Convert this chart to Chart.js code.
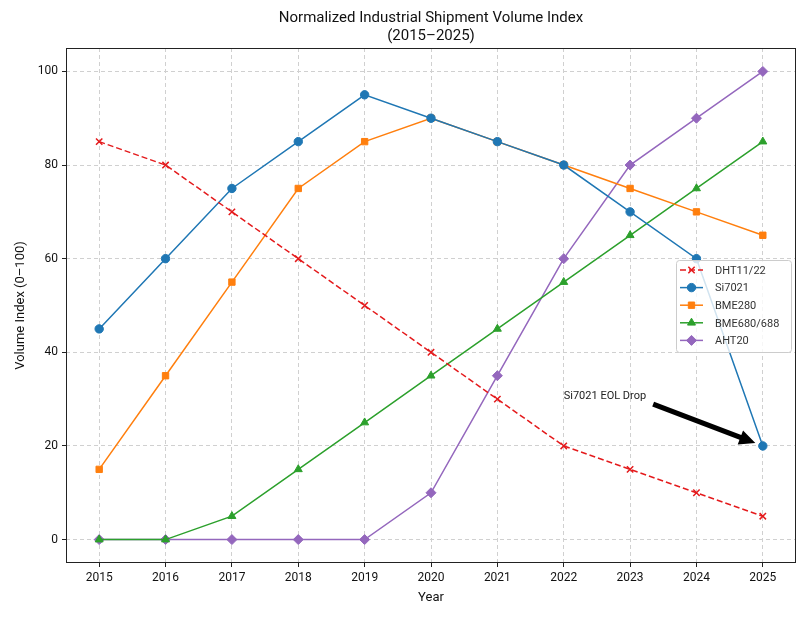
<!DOCTYPE html>
<html>
<head>
<meta charset="utf-8">
<script src="https://cdn.jsdelivr.net/npm/chart.js@4.4.1/dist/chart.umd.min.js"></script>
<style>
  html, body { margin: 0; padding: 0; background: #fff; }
  #wrap { width: 808px; height: 618px; }
</style>
</head>
<body>
<div id="wrap"><canvas id="chart" width="808" height="618"></canvas></div>
<script>
// data
const years = ['2015', '2016', '2017', '2018', '2019', '2020', '2021', '2022', '2023', '2024', '2025'];
const dht = [85, 80, 70, 60, 50, 40, 30, 20, 15, 10, 5];
const si7021 = [45, 60, 75, 85, 95, 90, 85, 80, 70, 60, 20];
const bme280 = [15, 35, 55, 75, 85, 90, 85, 80, 75, 70, 65];
const bme680 = [0, 0, 5, 15, 25, 35, 45, 55, 65, 75, 85];
const aht20 = [0, 0, 0, 0, 0, 10, 35, 60, 80, 90, 100];
const yTicks = [0, 20, 40, 60, 80, 100];

// annotation: text at (2022, 30), arrow to (2025, 20)
const noteText = 'Si7021 EOL Drop';
const noteAt = { x: '2022', y: 30 };
const noteTarget = { x: '2025', y: 20 };

const FONT = 'Roboto, "Open Sans", sans-serif';

// box around plot + annotation arrow
const framePlugin = {
    id: 'frame',
    afterDraw(chart) {
        const { ctx, chartArea: a, scales } = chart;
        ctx.save();
        ctx.strokeStyle = '#222';
        ctx.lineWidth = 1;
        ctx.strokeRect(a.left + 0.5, a.top + 0.5, a.right - a.left - 1, a.bottom - a.top - 1);

        // annotation
        const tx = scales.x.getPixelForValue(years.indexOf(noteAt.x));
        const ty = scales.y.getPixelForValue(noteAt.y);
        const px = scales.x.getPixelForValue(years.indexOf(noteTarget.x));
        const py = scales.y.getPixelForValue(noteTarget.y);
        ctx.font = '11px ' + FONT;
        ctx.fillStyle = '#222';
        ctx.textAlign = 'left';
        ctx.textBaseline = 'alphabetic';
        ctx.fillText(noteText, tx, ty);
        const w = ctx.measureText(noteText).width;

        // arrow from text box edge toward point, shrunk a little
        const sx = tx + w + 7, sy = ty + 5;
        const dx = px - sx, dy = py - sy;
        const len = Math.hypot(dx, dy);
        const ux = dx / len, uy = dy / len;
        const ex = px - ux * 8, ey = py - uy * 8;
        const head = 16, hw = 7.5, sw = 2.6;
        const bx = ex - ux * head, by = ey - uy * head;
        const nx = -uy, ny = ux;
        ctx.fillStyle = '#000';
        ctx.beginPath();
        ctx.moveTo(sx + nx * sw, sy + ny * sw);
        ctx.lineTo(bx + nx * sw, by + ny * sw);
        ctx.lineTo(bx + nx * hw, by + ny * hw);
        ctx.lineTo(ex, ey);
        ctx.lineTo(bx - nx * hw, by - ny * hw);
        ctx.lineTo(bx - nx * sw, by - ny * sw);
        ctx.lineTo(sx - nx * sw, sy - ny * sw);
        ctx.closePath();
        ctx.fill();
        ctx.restore();
    }
};

// legend drawn inside the plot
const legendPlugin = {
    id: 'innerLegend',
    afterDraw(chart) {
        const { ctx } = chart;
        const x0 = 676, y0 = 260, w = 115, h = 92;
        ctx.save();
        ctx.fillStyle = 'rgba(255,255,255,0.8)';
        ctx.strokeStyle = '#cccccc';
        ctx.lineWidth = 1;
        ctx.beginPath();
        ctx.roundRect(x0 + 0.5, y0 + 0.5, w, h, 3);
        ctx.fill();
        ctx.stroke();
        chart.data.datasets.forEach((ds, i) => {
            const cy = y0 + 10 + i * 17.6;
            ctx.strokeStyle = ds.borderColor;
            ctx.lineWidth = 1.5;
            ctx.setLineDash(ds.borderDash || []);
            ctx.beginPath();
            ctx.moveTo(x0 + 4, cy);
            ctx.lineTo(x0 + 27, cy);
            ctx.stroke();
            ctx.setLineDash([]);
            ctx.fillStyle = ds.borderColor;
            ctx.strokeStyle = ds.borderColor;
            ctx.lineWidth = ds.pointBorderWidth;
            Chart.helpers.drawPoint(ctx, {
                pointStyle: ds.pointStyle,
                radius: ds.pointRadius,
                borderWidth: ds.pointBorderWidth
            }, x0 + 15.5, cy);
            ctx.fillStyle = '#333';
            ctx.font = '11px ' + FONT;
            ctx.textAlign = 'left';
            ctx.textBaseline = 'middle';
            ctx.fillText(ds.label, x0 + 39, cy + 1);
        });
        ctx.restore();
    }
};

function series(label, data, color, style, radius, dash) {
    return {
        label: label,
        data: data,
        borderColor: color,
        backgroundColor: color,
        pointBackgroundColor: color,
        pointBorderColor: color,
        pointStyle: style,
        pointRadius: radius,
        pointHoverRadius: radius,
        pointBorderWidth: style === 'crossRot' ? 1.5 : 1,
        borderWidth: 1.5,
        borderDash: dash,
        tension: 0,
        fill: false
    };
}

const ctx = document.getElementById('chart').getContext('2d');
const chart = new Chart(ctx, {
    type: 'line',
    data: {
        labels: years,
        datasets: [
            series('DHT11/22', dht, '#e41a1c', 'crossRot', 4.5, [6, 3]),
            series('Si7021', si7021, '#1f77b4', 'circle', 4.2, []),
            series('BME280', bme280, '#ff7f0e', 'rect', 4.5, []),
            series('BME680/688', bme680, '#2ca02c', 'triangle', 4.6, []),
            series('AHT20', aht20, '#9467bd', 'rectRot', 5, [])
        ]
    },
    options: {
        responsive: false,
        animation: false,
        devicePixelRatio: 1,
        layout: { padding: { left: 13, right: 12, top: 0, bottom: 12 } },
        plugins: {
            legend: { display: false },
            tooltip: { enabled: false },
            title: {
                display: true,
                fullSize: false,
                text: ['Normalized Industrial Shipment Volume Index', '(2015\u20132025)'],
                color: '#111',
                font: { family: FONT, size: 15, weight: 'normal', lineHeight: 1.2 },
                padding: { top: 9, bottom: 3 }
            }
        },
        scales: {
            x: {
                type: 'category',
                offset: true,
                grid: {
                    offset: false,
                    color: '#d0d0d0',
                    tickColor: '#222',
                    tickLength: 4,
                    tickBorderDash: []
                },
                border: { display: false, dash: [4, 3] },
                ticks: { color: '#111', font: { family: FONT, size: 12 }, padding: 4, maxRotation: 0 },
                title: {
                    display: true,
                    text: 'Year',
                    color: '#111',
                    font: { family: FONT, size: 13 },
                    padding: { top: 2, bottom: 0 }
                },
                afterFit(scale) { scale.height = 43; }
            },
            y: {
                type: 'linear',
                min: -5,
                max: 105,
                afterBuildTicks(scale) {
                    scale.ticks = yTicks.map(v => ({ value: v }));
                },
                grid: {
                    color: '#d0d0d0',
                    tickColor: '#222',
                    tickLength: 4,
                    tickBorderDash: []
                },
                border: { display: false, dash: [4, 3] },
                ticks: { color: '#111', font: { family: FONT, size: 12 }, padding: 4 },
                title: {
                    display: true,
                    text: 'Volume Index (0\u2013100)',
                    color: '#111',
                    font: { family: FONT, size: 13 },
                    padding: { top: 0, bottom: 4 }
                },
                afterFit(scale) { scale.width = 53; }
            }
        }
    },
    plugins: [framePlugin, legendPlugin]
});
</script>
</body>
</html>
